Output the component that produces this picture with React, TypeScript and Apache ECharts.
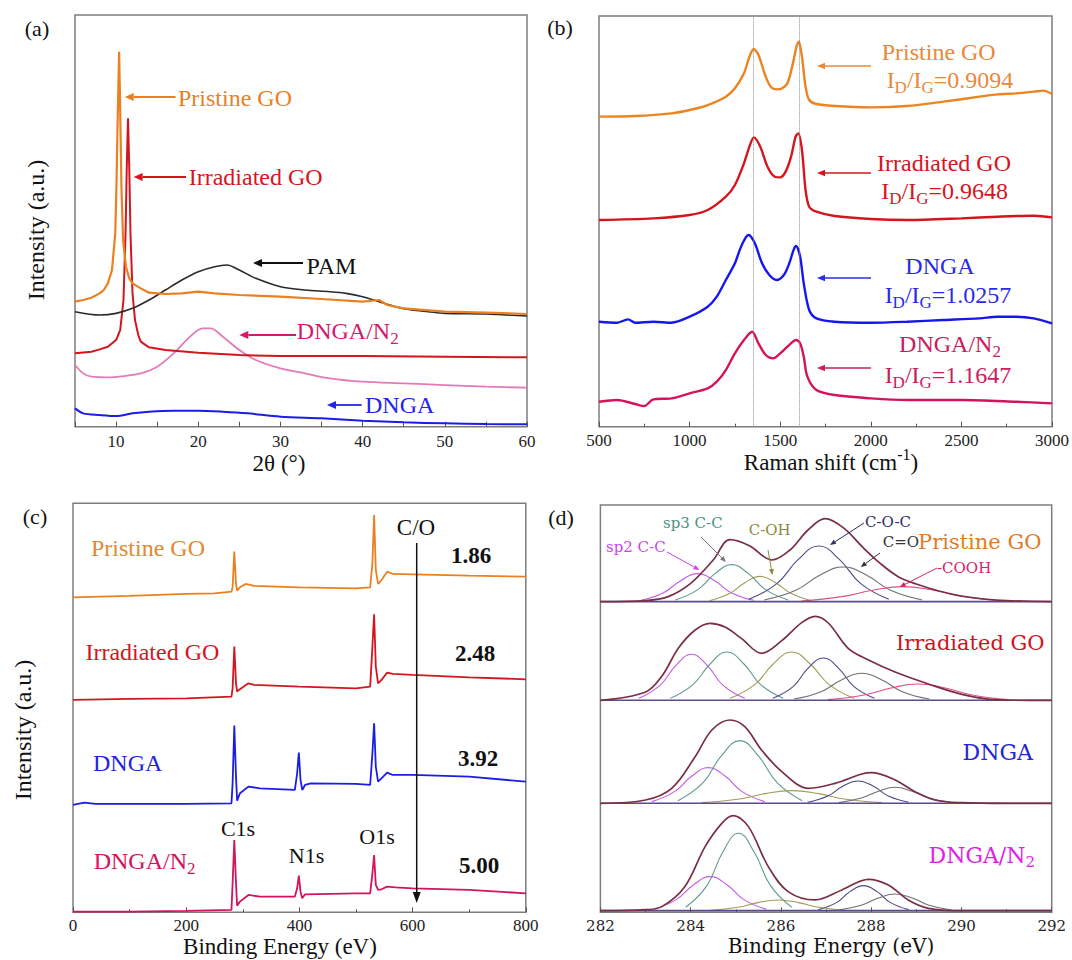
import React, { useEffect, useRef } from 'react';
import * as echarts from 'echarts';

type P = [number, number];

// ---------- (a) XRD ----------
const XRD_PRISTINE_GO: P[] = [[5,37.5],[6,38],[7,38.7],[8,40],[8.5,41],[9,43],[9.5,47],[9.9,58],[10.05,73],[10.2,93],[10.37,112.5],[10.5,95],[10.65,72],[10.85,56],[11.2,48],[11.6,44.5],[12,43],[13,41.5],[14,40.2],[16,39.8],[18,40],[20,40.5],[22,40],[25,39.5],[30,39],[35,38.3],[40,37.5],[42,38],[43,36.5],[45,35.5],[50,34.5],[55,34.2],[60,33.8]];
const XRD_PAM: P[] = [[5,34.5],[8,33.5],[10,34],[12,35.5],[14,38],[16,41],[18,44],[20,46.5],[22,48],[23.5,48.5],[25,47],[27,44.5],[30,42],[33,41],[36,40.5],[38,40],[40,39],[42,37.5],[44,36],[46,35],[48,34.5],[50,34],[55,33.8],[60,33.2]];
const XRD_IRRADIATED_GO: P[] = [[5,22],[7,22.5],[8,23.2],[9,24],[10,26],[10.5,29],[10.9,38],[11.15,58],[11.3,78],[11.45,92.5],[11.6,78],[11.75,58],[12,40],[12.3,32],[12.7,27.5],[13,25.5],[14,23.8],[16,23],[20,22.2],[25,21.5],[30,21.2],[40,21.2],[50,21],[60,20.8]];
const XRD_DNGA_N2: P[] = [[5,18.5],[6,16],[7,15],[9,14.8],[11,15.2],[13,16],[15,18],[17,22],[19,27],[20.5,29.5],[21.5,29.5],[23,27],[25,23],[27,20],[30,17.5],[33,16],[36,14.5],[40,13.5],[45,13],[50,12.5],[55,12],[60,11.7]];
const XRD_DNGA: P[] = [[5,5.5],[6,4],[8,3.5],[10,3.2],[12,4],[14,4.5],[17,4.8],[20,4.8],[23,4.5],[26,4],[30,3],[35,2.5],[40,1.8],[45,1.3],[50,1],[55,0.8],[60,0.7]];

// ---------- (b) Raman ----------
const RAMAN_PRISTINE_GO: P[] = [[500,93],[700,93.2],[900,94],[1000,95],[1100,96.5],[1200,99],[1250,101.5],[1300,106],[1330,111],[1354,113.3],[1380,111.5],[1420,105],[1450,101.8],[1480,101.2],[1510,101.5],[1540,103],[1570,109],[1590,114],[1603,115.5],[1620,111],[1640,102],[1660,98],[1700,96.8],[1800,96.2],[2000,95.8],[2200,96.2],[2400,97.5],[2600,99],[2700,99.7],[2800,100],[2900,100.5],[2950,100.8],[3000,99.8]];
const RAMAN_IRRADIATED_GO: P[] = [[500,62],[800,62.5],[1000,63.5],[1100,65],[1200,69],[1250,72.5],[1300,79],[1330,84],[1355,86.8],[1390,84],[1430,78],[1470,75],[1500,74.8],[1530,76.5],[1560,81],[1585,87],[1600,88],[1620,83],[1640,71],[1660,66],[1700,64.5],[1800,63.2],[2000,62.3],[2200,62],[2500,62.5],[2700,63],[2900,63.3],[3000,62.8]];
const RAMAN_DNGA: P[] = [[500,31.5],[600,31.2],[660,32.2],[700,31.2],[800,31.5],[900,31.2],[1000,33],[1100,36],[1150,39],[1200,44],[1250,49],[1280,53.5],[1310,56.8],[1326,57.5],[1360,55],[1400,49],[1440,45.5],[1480,44],[1520,45.5],[1550,49],[1575,53.2],[1588,54.2],[1610,51],[1630,43],[1660,35],[1700,32.5],[1800,31.5],[2000,31.2],[2200,31.5],[2400,32],[2600,32.5],[2700,33],[2800,33],[2900,32.5],[3000,31]];
const RAMAN_DNGA_N2: P[] = [[500,7.5],[600,8],[700,6.8],[750,6.2],[800,8.2],[900,8.5],[1000,10],[1100,11.5],[1150,13.5],[1200,17],[1250,22],[1300,26],[1345,28.5],[1380,25],[1420,21.5],[1460,20.5],[1500,22],[1540,24],[1588,26],[1610,25],[1630,21],[1650,15],[1700,11],[1800,9.5],[2000,8.5],[2200,8],[2500,8],[2800,7.5],[3000,7]];
const RAMAN_GUIDES = [1354, 1603];
const RAMAN_RATIOS = ['0.9094', '0.9648', '1.0257', '1.1647'];

// ---------- (c) XPS survey ----------
const XPS_PRISTINE_GO: P[] = [[0,94.5],[100,94.9],[200,95.5],[250,95.7],[280,96.2],[282,97.5],[285,108.2],[288,98.5],[290,96.5],[295,97.5],[305,98.5],[320,97.9],[400,97.5],[500,97.2],[525,97.5],[529,104.7],[532,119.2],[535,102.7],[539,98.5],[545,99.7],[555,102.2],[565,101.5],[600,101.4],[700,101],[800,100.7]];
const XPS_IRRADIATED_GO: P[] = [[0,63.7],[100,64],[200,64.2],[280,64.7],[282,67.2],[285,79.7],[288,68.7],[290,66.2],[293,66.7],[310,68.7],[320,68.2],[400,67.7],[500,67.2],[525,67.7],[529,79.7],[532,89.4],[535,73.7],[539,68.7],[545,69.7],[555,71.9],[565,71.5],[600,71.2],[700,70.5],[800,69.9]];
const XPS_DNGA: P[] = [[0,32.2],[20,32.9],[40,32.5],[100,32.5],[200,32.5],[280,32.7],[282,38.7],[285,56],[288,40.7],[290,33.5],[295,35.7],[310,37.7],[330,37.2],[392,36.7],[396,41.7],[399,47.9],[402,39.7],[405,36.7],[410,38.2],[420,38.7],[500,38.5],[525,38.2],[529,47.7],[532,56.7],[535,43.7],[539,39.2],[545,40.2],[555,41.9],[565,41.2],[600,41.2],[700,40.7],[800,39.2]];
const XPS_DNGA_N2: P[] = [[0,0.2],[100,0.2],[200,0.4],[280,0.7],[282,8.7],[285,21.7],[288,8.7],[290,2],[295,3.2],[310,5.2],[330,4.7],[392,4.7],[396,7.2],[399,11],[402,6.2],[405,4.2],[410,5.4],[500,5.7],[525,5.7],[529,11.7],[532,17.2],[535,8.2],[539,6.7],[545,6.9],[555,7.7],[570,7.5],[600,7.2],[700,6.7],[800,5.7]];
const XPS_CO_RATIOS = ['1.86', '2.48', '3.92', '5.00'];

// ---------- (d) C1s fits (heights above each spectrum's baseline) ----------
const C1S_OFFSETS = [93.2, 63.6, 32.7, 0.5];
const C1S_PGO_ENV: P[] = [[282,0],[283,0.3],[283.5,1.5],[284,5.5],[284.5,12.5],[284.87,18.6],[285.3,16.8],[285.8,12.5],[286.2,15.5],[286.6,21.5],[286.98,24.9],[287.4,22],[287.8,16.5],[288.2,11.5],[288.6,7.5],[289,5.3],[289.5,3.2],[290,1.7],[290.5,0.8],[291,0.3],[292,0]];
const C1S_PGO_SP2: P[] = [[282.9,0.4],[283.4,2.7],[283.78,6.3],[284.15,8.4],[284.53,6.3],[284.9,2.7],[285.4,0.4]];
const C1S_PGO_SP3: P[] = [[283.66,0.5],[284.16,3.6],[284.54,8.4],[284.91,11.1],[285.28,8.4],[285.66,3.6],[286.16,0.5]];
const C1S_PGO_COH: P[] = [[284.42,0.3],[284.87,2.5],[285.2,5.7],[285.54,7.6],[285.88,5.7],[286.22,2.5],[286.67,0.3]];
const C1S_PGO_COC: P[] = [[285.29,0.7],[285.91,5.4],[286.38,12.6],[286.84,16.7],[287.3,12.6],[287.77,5.4],[288.39,0.7]];
const C1S_PGO_CO: P[] = [[285.63,0.5],[286.33,3.4],[286.86,7.9],[287.38,10.4],[287.9,7.9],[288.43,3.4],[289.13,0.5]];
const C1S_PGO_COOH: P[] = [[286.45,0.2],[287.35,1.5],[288.03,3.4],[288.7,4.5],[289.38,3.4],[290.05,1.5],[290.95,0.2]];

const C1S_IGO_ENV: P[] = [[282,0],[282.99,2.4],[283.36,7.2],[283.73,15.7],[284.1,21.1],[284.43,23.1],[284.76,22],[285.13,18.5],[285.57,14.1],[286.02,17.9],[286.46,23.3],[286.76,25.2],[287.05,23.2],[287.49,15.6],[287.94,12.1],[288.53,8.5],[289.27,4.9],[290.01,1.8],[290.74,0.2],[291.5,0],[292,0]];
const C1S_IGO_SP2: P[] = [[282.85,0.6],[283.32,4.5],[283.67,10.4],[284.02,13.8],[284.37,10.4],[284.72,4.5],[285.2,0.6]];
const C1S_IGO_SP3: P[] = [[283.55,0.6],[284.05,4.7],[284.43,10.9],[284.8,14.5],[285.18,10.9],[285.55,4.7],[286.05,0.6]];
const C1S_IGO_COH: P[] = [[284.87,0.6],[285.42,4.7],[285.83,10.9],[286.24,14.5],[286.65,10.9],[287.07,4.7],[287.62,0.6]];
const C1S_IGO_COC: P[] = [[285.82,0.6],[286.27,4.1],[286.6,9.6],[286.94,12.7],[287.28,9.6],[287.62,4.1],[288.07,0.6]];
const C1S_IGO_CO: P[] = [[286.29,0.4],[286.89,2.6],[287.34,6.1],[287.79,8.1],[288.24,6.1],[288.69,2.6],[289.29,0.4]];
const C1S_IGO_COOH: P[] = [[287.04,0.2],[287.84,1.6],[288.44,3.7],[289.04,4.9],[289.64,3.7],[290.24,1.6],[291.04,0.2]];

const C1S_DNGA_ENV: P[] = [[282,0],[283,1],[283.58,4.5],[284.1,14],[284.47,22],[284.87,25],[285.2,23],[285.57,16],[286.02,9.5],[286.61,4.5],[287.2,6],[287.79,8.8],[288.01,9.2],[288.53,7],[288.97,3.5],[289.41,1],[290.01,0.2],[291,0],[292,0]];
const C1S_DNGA_SP2: P[] = [[283.14,0.5],[283.64,3.5],[284.02,8.1],[284.39,10.7],[284.77,8.1],[285.14,3.5],[285.64,0.5]];
const C1S_DNGA_SP3: P[] = [[283.72,0.8],[284.27,6.1],[284.68,14.2],[285.09,18.8],[285.5,14.2],[285.92,6.1],[286.47,0.8]];
const C1S_DNGA_COH: P[] = [[284.24,0.2],[285.04,1.2],[285.64,2.9],[286.24,3.8],[286.84,2.9],[287.44,1.2],[288.24,0.2]];
const C1S_DNGA_COC: P[] = [[286.59,0.3],[287.04,2.2],[287.37,5.1],[287.71,6.7],[288.05,5.1],[288.38,2.2],[288.83,0.3]];
const C1S_DNGA_CO: P[] = [[287.28,0.2],[287.78,1.6],[288.16,3.6],[288.53,4.8],[288.91,3.6],[289.28,1.6],[289.78,0.2]];

const C1S_DNGAN2_ENV: P[] = [[282,0],[283,0.3],[283.36,1.2],[283.87,7.2],[284.32,19.2],[284.69,26.2],[284.94,28.5],[285.28,25.2],[285.72,13.2],[286.16,5.7],[286.76,3.2],[287.35,6.2],[287.94,9.4],[288.38,7.7],[288.82,3.2],[289.27,0.7],[290,0],[292,0]];
const C1S_DNGAN2_SP2: P[] = [[283.18,0.4],[283.68,3.3],[284.06,7.7],[284.43,10.2],[284.81,7.7],[285.18,3.3],[285.68,0.4]];
const C1S_DNGAN2_SP3: P[] = [[283.89,1],[284.36,7.5],[284.71,17.5],[285.06,23.2],[285.41,17.5],[285.77,7.5],[286.24,1]];
const C1S_DNGAN2_COH: P[] = [[284.44,0.1],[285.04,1],[285.49,2.4],[285.94,3.2],[286.39,2.4],[286.84,1],[287.44,0.1]];
const C1S_DNGAN2_COC: P[] = [[286.83,0.3],[287.23,2.4],[287.53,5.7],[287.83,7.5],[288.13,5.7],[288.43,2.4],[288.83,0.3]];
const C1S_DNGAN2_CO: P[] = [[287.28,0.2],[287.78,1.6],[288.16,3.8],[288.53,5],[288.91,3.8],[289.28,1.6],[289.78,0.2]];

// ---------- styling ----------
const SERIF = 'Liberation Serif, Times New Roman, serif';
const WIDE = 'DejaVu Serif, serif';
const ORANGE = '#ea801f';
const RED = '#d5151d';
const BLUE = '#1c1ce8';
const CRIMSON = '#d3135c';
const PINK = '#e57ab6';
const COMP = { sp2: '#c45ae6', sp3: '#5e9a92', coh: '#a09c55', coc: '#4a4a88', co: '#707070', cooh: '#e0507e' };

let measureCtx: CanvasRenderingContext2D | null = null;
function textWidth(s: string, font: string) {
  if (!measureCtx) measureCtx = document.createElement('canvas').getContext('2d');
  if (!measureCtx) return s.length * 10;
  measureCtx.font = font;
  return measureCtx.measureText(s).width;
}

type Part = [string, ('sub' | 'sup')?];
function label(parts: Part[], x: number, y: number, o: { size: number; color?: string; family?: string; weight?: string; align?: 'left' | 'center' | 'right'; rotate?: boolean }) {
  const fam = o.family || SERIF;
  const w = o.weight || 'normal';
  const color = o.color || '#111';
  const items = parts.map(([t, k]) => {
    const sz = k ? Math.round(o.size * 0.7) : o.size;
    const font = `${w} ${sz}px ${fam}`;
    return { t, k, font, width: textWidth(t, font) };
  });
  const total = items.reduce((a, b) => a + b.width, 0);
  let cx = o.align === 'center' ? -total / 2 : o.align === 'right' ? -total : 0;
  const children = items.map((it) => {
    const dy = it.k === 'sub' ? o.size * 0.3 : it.k === 'sup' ? -o.size * 0.32 : 0;
    const el = {
      type: 'text', x: cx, y: dy, silent: true,
      style: { text: it.t, font: it.font, fill: color, align: 'left', verticalAlign: 'middle', textAlign: 'left', textVerticalAlign: 'middle' },
    };
    cx += it.width;
    return el;
  });
  return { type: 'group', x, y, rotation: o.rotate ? Math.PI / 2 : 0, z: 100, silent: true, children };
}

function arrow(x1: number, y1: number, x2: number, y2: number, color: string, w = 1.6, hl = 9, hw = 4) {
  const a = Math.atan2(y2 - y1, x2 - x1);
  const bx = x2 - hl * Math.cos(a), by = y2 - hl * Math.sin(a);
  const px = -Math.sin(a) * hw, py = Math.cos(a) * hw;
  return [
    { type: 'line', z: 100, silent: true, shape: { x1, y1, x2: bx, y2: by }, style: { stroke: color, lineWidth: w } },
    { type: 'polygon', z: 100, silent: true, shape: { points: [[x2, y2], [bx + px, by + py], [bx - px, by - py]] }, style: { fill: color } },
  ];
}

function lineSeries(data: P[], gi: number, color: string, width: number, extra: any = {}) {
  return {
    type: 'line', xAxisIndex: gi, yAxisIndex: gi, data, showSymbol: false, symbol: 'none', silent: true,
    lineStyle: { color, width }, itemStyle: { color }, emphasis: { disabled: true }, ...extra,
  };
}

function xAxisCfg(gi: number, min: number, max: number, interval: number, labelStep: number, family: string, size: number, margin: number, minor: boolean) {
  return {
    gridIndex: gi, type: 'value', min, max, interval,
    axisLine: { show: false },
    axisTick: { show: true, inside: true, length: 5, lineStyle: { color: '#555', width: 1 } },
    minorTick: { show: minor, splitNumber: 2, length: 3, lineStyle: { color: '#555', width: 1 } },
    splitLine: { show: false }, minorSplitLine: { show: false },
    axisLabel: {
      show: true, margin, color: '#222', fontSize: size, fontFamily: family,
      formatter: (v: number) => (Math.abs(Math.round(v / labelStep) * labelStep - v) < 1e-6 ? String(v) : ''),
    },
  };
}

function buildOption() {
  const grids = [
    { left: 75, top: 15, width: 452, height: 411.7 },
    { left: 599, top: 16, width: 453, height: 410.7 },
    { left: 73, top: 503.3, width: 452.8, height: 409 },
    { left: 600.4, top: 505, width: 451.3, height: 407.3 },
  ].map((g) => ({ ...g, show: true, borderColor: '#7d7d7d', borderWidth: 1.5, backgroundColor: 'transparent', containLabel: false, outerBoundsMode: 'none' }));

  const xAxis = [
    xAxisCfg(0, 5, 60, 5, 10, SERIF, 17, 6, false),
    xAxisCfg(1, 500, 3000, 500, 500, SERIF, 17, 5, true),
    xAxisCfg(2, 0, 800, 200, 200, SERIF, 17, 5, true),
    xAxisCfg(3, 282, 292, 2, 2, WIDE, 15, 6, true),
  ];
  const yMax = [123.5, 123.2, 122.7, 122.2];
  const yAxis = yMax.map((m, i) => ({ gridIndex: i, type: 'value', min: 0, max: m, show: false }));

  const soft = { smooth: 0.3 };
  const series: any[] = [];
  // (a)
  series.push(lineSeries(XRD_DNGA, 0, BLUE, 2, soft));
  series.push(lineSeries(XRD_DNGA_N2, 0, PINK, 1.8, soft));
  series.push(lineSeries(XRD_IRRADIATED_GO, 0, RED, 2));
  series.push(lineSeries(XRD_PAM, 0, '#2a2a2a', 1.6, soft));
  series.push(lineSeries(XRD_PRISTINE_GO, 0, ORANGE, 2.2));
  // (b)
  series.push(lineSeries(RAMAN_PRISTINE_GO, 1, '#ec8422', 2.4, {
    ...soft,
    markLine: {
      silent: true, symbol: 'none', label: { show: false },
      lineStyle: { color: '#8a8a8a', type: 'dotted', width: 1 },
      data: RAMAN_GUIDES.map((v) => ({ xAxis: v })),
    },
  }));
  series.push(lineSeries(RAMAN_IRRADIATED_GO, 1, RED, 2.4, soft));
  series.push(lineSeries(RAMAN_DNGA, 1, '#1616f0', 2.4, soft));
  series.push(lineSeries(RAMAN_DNGA_N2, 1, CRIMSON, 2.4, soft));
  // (c)
  series.push(lineSeries(XPS_PRISTINE_GO, 2, ORANGE, 1.8));
  series.push(lineSeries(XPS_IRRADIATED_GO, 2, RED, 1.8));
  series.push(lineSeries(XPS_DNGA, 2, BLUE, 1.8));
  series.push(lineSeries(XPS_DNGA_N2, 2, CRIMSON, 1.8));
  // (d)
  const fits = [
    { env: C1S_PGO_ENV, comps: [[C1S_PGO_SP2, COMP.sp2], [C1S_PGO_SP3, COMP.sp3], [C1S_PGO_COH, COMP.coh], [C1S_PGO_COC, COMP.coc], [C1S_PGO_CO, COMP.co], [C1S_PGO_COOH, COMP.cooh]] },
    { env: C1S_IGO_ENV, comps: [[C1S_IGO_SP2, COMP.sp2], [C1S_IGO_SP3, COMP.sp3], [C1S_IGO_COH, COMP.coh], [C1S_IGO_COC, COMP.coc], [C1S_IGO_CO, COMP.co], [C1S_IGO_COOH, COMP.cooh]] },
    { env: C1S_DNGA_ENV, comps: [[C1S_DNGA_SP2, COMP.sp2], [C1S_DNGA_SP3, COMP.sp3], [C1S_DNGA_COH, COMP.coh], [C1S_DNGA_COC, COMP.coc], [C1S_DNGA_CO, COMP.co]] },
    { env: C1S_DNGAN2_ENV, comps: [[C1S_DNGAN2_SP2, COMP.sp2], [C1S_DNGAN2_SP3, COMP.sp3], [C1S_DNGAN2_COH, COMP.coh], [C1S_DNGAN2_COC, COMP.coc], [C1S_DNGAN2_CO, COMP.co]] },
  ];
  fits.forEach((f, i) => {
    const off = C1S_OFFSETS[i];
    const shift = (d: P[]) => d.map(([x, h]) => [x, h + off] as P);
    f.comps.forEach(([d, c]) => series.push(lineSeries(shift(d as P[]), 3, c as string, 1.1, { smooth: 0.45 })));
    series.push(lineSeries(shift([[282, 0], [292, 0]]), 3, '#5a4a92', 1.6));
    series.push(lineSeries(shift(f.env), 3, '#7a2f42', 1.7, { smooth: 0.35 }));
  });

  const G: any[] = [];
  // panel letters
  G.push(label([['(a)']], 37, 28, { size: 22, align: 'center' }));
  G.push(label([['(b)']], 560, 27, { size: 22, align: 'center' }));
  G.push(label([['(c)']], 35, 516, { size: 22, align: 'center' }));
  G.push(label([['(d)']], 561, 517, { size: 22, align: 'center' }));

  // (a) annotations
  G.push(label([['Pristine GO']], 178, 98, { size: 24, color: ORANGE }));
  G.push(label([['Irradiated GO']], 188.7, 177, { size: 24, color: RED }));
  G.push(label([['PAM']], 306.5, 266, { size: 24, color: '#111' }));
  G.push(label([['DNGA/N'], ['2', 'sub']], 296.8, 331, { size: 24, color: '#d21a6e' }));
  G.push(label([['DNGA']], 365, 405, { size: 24, color: '#2424e6' }));
  G.push(...arrow(175.6, 97, 124.7, 97, ORANGE, 1.8));
  G.push(...arrow(186, 177, 133.6, 177, RED, 1.8));
  G.push(...arrow(303, 263, 253, 263, '#111', 1.8));
  G.push(...arrow(296, 335, 239.3, 335, '#d21a6e', 1.8));
  G.push(...arrow(361.6, 405, 327, 405, '#2424e6', 1.8));
  G.push(label([['2θ (°)']], 279, 463, { size: 23, align: 'center' }));
  G.push(label([['Intensity (a.u.)']], 36, 230, { size: 24, align: 'center', rotate: true }));

  // (b) annotations
  const bCols = ['#e8893a', RED, '#2a2ae8', '#c8205c'];
  const bNames: Part[][] = [[['Pristine GO']], [['Irradiated GO']], [['DNGA']], [['DNGA/N'], ['2', 'sub']]];
  const bNameXY = [[938.7, 52], [944, 163], [940, 266], [950, 344]];
  const bRatioXY = [[950, 80], [944.6, 191], [948, 295], [948, 375]];
  const bArrowY = [66, 173, 278, 368];
  bNames.forEach((n, i) => {
    G.push(label(n, bNameXY[i][0], bNameXY[i][1], { size: 24, color: bCols[i], align: 'center' }));
    G.push(label([['I'], ['D', 'sub'], ['/I'], ['G', 'sub'], ['=' + RAMAN_RATIOS[i]]], bRatioXY[i][0], bRatioXY[i][1], { size: 24, color: bCols[i], align: 'center' }));
    G.push(...arrow(871, bArrowY[i], 817, bArrowY[i], bCols[i], 1.3, 8, 3.2));
  });
  G.push(label([['Raman shift (cm'], ['-1', 'sup'], [')']], 831, 462, { size: 23, align: 'center' }));

  // (c) annotations
  G.push(label([['Pristine GO']], 91, 548, { size: 24, color: '#e08a32' }));
  G.push(label([['Irradiated GO']], 85.4, 652, { size: 24, color: RED }));
  G.push(label([['DNGA']], 93, 763, { size: 24, color: '#2424e0' }));
  G.push(label([['DNGA/N'], ['2', 'sub']], 93.7, 861, { size: 24, color: CRIMSON }));
  G.push(label([['C1s']], 238, 828, { size: 22, align: 'center' }));
  G.push(label([['N1s']], 306.5, 855, { size: 22, align: 'center' }));
  G.push(label([['O1s']], 377, 836, { size: 22, align: 'center' }));
  G.push(label([['C/O']], 416, 527, { size: 23, align: 'center' }));
  const coXY = [[471, 555], [475, 653], [478, 758], [479, 865]];
  XPS_CO_RATIOS.forEach((r, i) => G.push(label([[r]], coXY[i][0], coXY[i][1], { size: 23, weight: 'bold', align: 'center' })));
  G.push(...arrow(416.7, 543, 416.7, 903, '#111', 1.5, 11, 4));
  G.push(label([['Binding Energy (eV)']], 280, 946, { size: 23, align: 'center' }));
  G.push(label([['Intensity (a.u.)']], 23, 730, { size: 24, align: 'center', rotate: true }));

  // (d) annotations
  G.push(label([['sp2 C-C']], 606, 547, { size: 15, color: '#cc44ee', family: WIDE }));
  G.push(label([['sp3 C-C']], 663, 523, { size: 15, color: '#4f8f85', family: WIDE }));
  G.push(label([['C-OH']], 748.7, 530, { size: 15, color: '#8c8a3c', family: WIDE }));
  G.push(label([['C-O-C']], 865, 522, { size: 15, color: '#2c2c6e', family: WIDE }));
  G.push(label([['C=O']], 882.7, 542, { size: 15, color: '#333', family: WIDE }));
  G.push(label([['Pristine GO']], 918, 542, { size: 21, color: '#e07b28', family: WIDE }));
  G.push(label([['-COOH']], 937, 568, { size: 15, color: '#d8246a', family: WIDE }));
  G.push(label([['Irradiated GO']], 896, 643, { size: 21, color: '#d21020', family: WIDE }));
  G.push(label([['DNGA']], 962.5, 752, { size: 22, color: '#2424d8', family: WIDE }));
  G.push(label([['DNGA/N'], ['2', 'sub']], 928.5, 855, { size: 22, color: '#e020e8', family: WIDE }));
  G.push(...arrow(667, 552, 699.5, 570, '#cc44ee', 1, 6, 2.5));
  G.push(...arrow(701, 537, 726, 562, '#777', 1, 6, 2.5));
  G.push(...arrow(768, 550, 772.4, 575, '#8c8a3c', 1, 6, 2.5));
  G.push(...arrow(864, 523, 830, 545, '#2c2c6e', 1, 6, 2.5));
  G.push(...arrow(880, 553, 860.7, 567, '#333', 1, 6, 2.5));
  G.push(...arrow(937, 568, 899.7, 587, '#d8246a', 1, 6, 2.5));
  G.push(label([['Binding Energy (eV)']], 831, 946, { size: 20, align: 'center', family: WIDE }));

  return {
    animation: false,
    backgroundColor: '#fff',
    grid: grids,
    xAxis,
    yAxis,
    series,
    graphic: { elements: G },
  };
}

export default function App() {
  const ref = useRef<HTMLDivElement>(null);
  useEffect(() => {
    if (!ref.current) return;
    const chart = echarts.init(ref.current, null, { renderer: 'svg' });
    chart.setOption(buildOption() as any);
    return () => chart.dispose();
  }, []);
  return <div ref={ref} style={{ position: 'absolute', left: 0, top: 0, width: 1072, height: 960, background: '#fff' }} />;
}
